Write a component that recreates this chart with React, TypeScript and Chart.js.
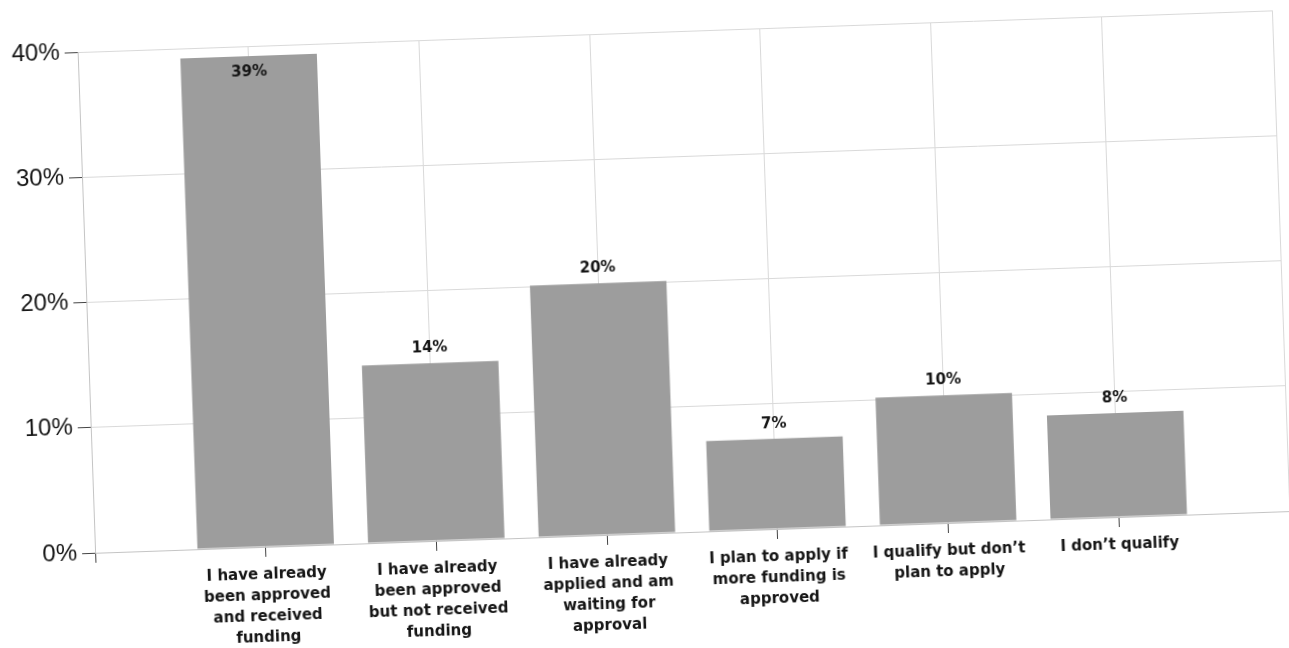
import React, { useEffect, useRef } from "react";
import { Chart, registerables } from "chart.js";

Chart.register(...registerables);

const categories: string[][] = [
  ["I have already", "been approved", "and received", "funding"],
  ["I have already", "been approved", "but not received", "funding"],
  ["I have already", "applied and am", "waiting for", "approval"],
  ["I plan to apply if", "more funding is", "approved"],
  ["I qualify but don\u2019t", "plan to apply"],
  ["I don\u2019t qualify"],
];

const values: number[] = [39.2, 14.2, 20.1, 7.2, 10.2, 8.3];

const yMin = 0;
const yMax = 40;
const yStep = 10;

const barColor = "#9d9d9d";
const gridColor = "#d9d9d9";
const axisColor = "#c4c4c4";
const tickMarkColor = "#444444";
const textColor = "#151515";

const valueLabelPlugin = {
  id: "valueLabels",
  afterDatasetsDraw(chart: any) {
    const ctx = chart.ctx;
    const area = chart.chartArea;
    const meta = chart.getDatasetMeta(0);
    const data = chart.data.datasets[0].data as (number | null)[];
    ctx.save();
    ctx.font = "bold 15px 'DejaVu Sans'";
    ctx.fillStyle = textColor;
    ctx.textAlign = "center";
    ctx.textBaseline = "middle";
    meta.data.forEach((bar: any, i: number) => {
      const v = data[i];
      if (v === null || v === undefined) return;
      const txt = Math.round(v) + "%";
      let y = bar.y - 15;
      if (y - 10 < area.top) y = bar.y + 16;
      ctx.fillText(txt, bar.x, y);
    });
    ctx.restore();
  },
};

export default function App() {
  const ref = useRef<HTMLCanvasElement | null>(null);

  useEffect(() => {
    if (!ref.current) return;
    const labels: (string | string[])[] = ["", ...categories, ""];
    const data: (number | null)[] = [null, ...values, null];
    const chart = new Chart(ref.current, {
      type: "bar",
      data: {
        labels,
        datasets: [
          {
            data,
            backgroundColor: barColor,
            borderWidth: 0,
            categoryPercentage: 1,
            barPercentage: 0.8,
          },
        ],
      },
      plugins: [valueLabelPlugin],
      options: {
        responsive: false,
        animation: false,
        devicePixelRatio: 1,
        layout: { padding: { top: 31, right: 3, bottom: 0, left: 0 } },
        plugins: {
          legend: { display: false },
          tooltip: { enabled: false },
        },
        scales: {
          x: {
            type: "category",
            offset: false,
            grid: {
              offset: false,
              color: gridColor,
              tickColor: tickMarkColor,
              tickLength: 10,
              drawTicks: true,
            },
            border: { color: axisColor },
            ticks: {
              autoSkip: false,
              maxRotation: 0,
              minRotation: 0,
              padding: 8,
              color: textColor,
              font: { family: "'DejaVu Sans'", size: 15, weight: "bold", lineHeight: 1.4 },
            },
            afterFit(scale: any) {
              scale.height = 116;
            },
          },
          y: {
            min: yMin,
            max: yMax,
            grid: {
              color: gridColor,
              tickColor: tickMarkColor,
              tickLength: 13,
            },
            border: { color: axisColor },
            ticks: {
              stepSize: yStep,
              padding: 5,
              color: textColor,
              font: { family: "'Liberation Sans Narrow', 'Liberation Sans'", size: 24 },
              callback: (v: any) => v + "%",
            },
            afterFit(scale: any) {
              scale.width = 86;
            },
          },
        },
      },
    });
    return () => chart.destroy();
  }, []);

  return (
    <div
      style={{
        position: "fixed",
        left: 0,
        top: 0,
        width: 1289,
        height: 648,
        overflow: "hidden",
        background: "#ffffff",
      }}
    >
      <div
        style={{
          position: "absolute",
          left: 0,
          top: 0,
          width: 1289,
          height: 648,
          transform: "rotate(-2deg)",
          transformOrigin: "686px 281.5px",
        }}
      >
        <canvas ref={ref} width={1289} height={648} style={{ display: "block" }} />
      </div>
    </div>
  );
}
